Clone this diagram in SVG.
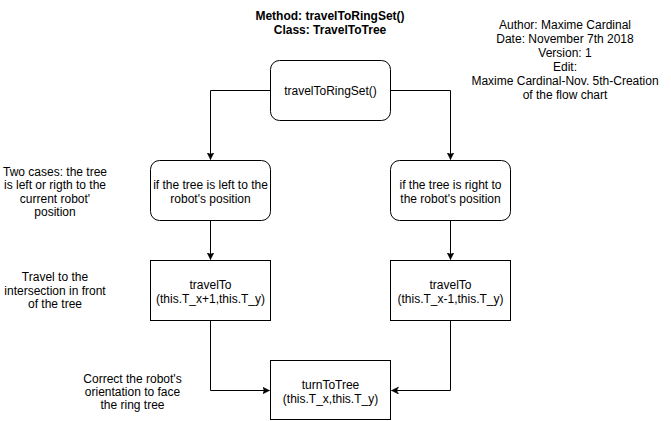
<svg xmlns="http://www.w3.org/2000/svg" width="671" height="421" viewBox="0 0 671 421">
<style>
text{font-family:"Liberation Sans",Arial,sans-serif;font-size:12px;fill:#000;text-anchor:middle}
.b{font-weight:bold}
.box{fill:#fff;stroke:#000;stroke-width:1}
.edge{fill:none;stroke:#000;stroke-width:1}
</style>
<defs>
<marker id="arr" markerWidth="10" markerHeight="10" refX="7" refY="3.5" orient="auto" markerUnits="userSpaceOnUse">
<path d="M0,0 L7,3.5 L0,7 L1.8,3.5 Z" fill="#000" stroke="#000" stroke-width="0.5"/>
</marker>
</defs>
<rect width="671" height="421" fill="#fff"/>
<g id="title">
<text class="b" x="330" y="19.5">Method: travelToRingSet()</text>
<text class="b" x="330" y="33.5">Class: TravelToTree</text>
</g>
<g id="info">
<text x="565" y="29">Author: Maxime Cardinal</text>
<text x="565" y="43">Date: November 7th 2018</text>
<text x="565" y="57">Version: 1</text>
<text x="565" y="71">Edit:</text>
<text x="565" y="85">Maxime Cardinal-Nov. 5th-Creation</text>
<text x="565" y="99">of the flow chart</text>
</g>
<g id="connectors">
<path class="edge" d="M270.5,90.5 H210.5 V159.5" marker-end="url(#arr)"/>
<path class="edge" d="M390.5,90.5 H450.5 V159.5" marker-end="url(#arr)"/>
<path class="edge" d="M210.5,220.5 V259.5" marker-end="url(#arr)"/>
<path class="edge" d="M450.5,220.5 V259.5" marker-end="url(#arr)"/>
<path class="edge" d="M210.5,320.5 V390.5 H269.5" marker-end="url(#arr)"/>
<path class="edge" d="M450.5,320.5 V390.5 H391.5" marker-end="url(#arr)"/>
</g>
<g id="start">
<rect class="box" x="270.5" y="60.5" width="120" height="60" rx="9" ry="9"/>
<text x="330.5" y="95">travelToRingSet()</text>
</g>
<g id="caseLeft">
<rect class="box" x="150.5" y="160.5" width="120" height="60" rx="9" ry="9"/>
<text x="210.5" y="189">if the tree is left to the</text>
<text x="210.5" y="203">robot's position</text>
</g>
<g id="caseRight">
<rect class="box" x="390.5" y="160.5" width="120" height="60" rx="9" ry="9"/>
<text x="450.5" y="189">if the tree is right to</text>
<text x="450.5" y="203">the robot's position</text>
</g>
<g id="travelLeft">
<rect class="box" x="150.5" y="260.5" width="120" height="60"/>
<text x="210.5" y="289">travelTo</text>
<text x="210.5" y="303">(this.T_x+1,this.T_y)</text>
</g>
<g id="travelRight">
<rect class="box" x="390.5" y="260.5" width="120" height="60"/>
<text x="450.5" y="289">travelTo</text>
<text x="450.5" y="303">(this.T_x-1,this.T_y)</text>
</g>
<g id="turn">
<rect class="box" x="270.5" y="360.5" width="120" height="59"/>
<text x="330.5" y="389">turnToTree</text>
<text x="330.5" y="403">(this.T_x,this.T_y)</text>
</g>
<g id="notes">
<text x="55" y="175.5">Two cases: the tree</text>
<text x="55" y="189">is left or rigth to the</text>
<text x="55" y="202.5">current robot'</text>
<text x="55" y="216">position</text>
<text x="55" y="281">Travel to the</text>
<text x="55" y="294.5">intersection in front</text>
<text x="55" y="308">of the tree</text>
<text x="132.5" y="382.5">Correct the robot's</text>
<text x="132.5" y="395.5">orientation to face</text>
<text x="132.5" y="408.5">the ring tree</text>
</g>
</svg>
